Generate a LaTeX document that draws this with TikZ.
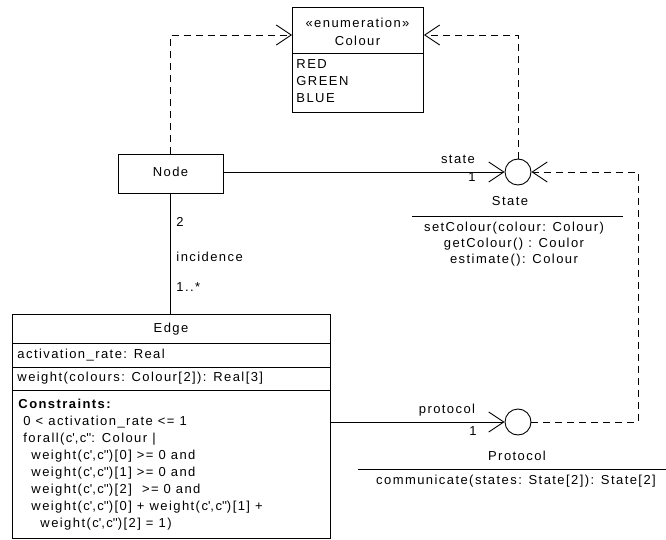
\documentclass[tikz,border=0pt]{standalone}
\usepackage{fontspec}
\setmainfont{Liberation Sans}[LetterSpace=11]
\usetikzlibrary{arrows.meta}
\newcommand{\cq}{c\textquotesingle}
\newcommand{\cqq}{c\textquotesingle\textquotesingle}
\begin{document}
\begin{tikzpicture}[x=1pt,y=-1pt,line width=0.9pt,
  font=\fontsize{13}{17}\selectfont,
  box/.style={draw,line width=0.9pt,inner sep=0pt},
  txt/.style={inner sep=0pt,text height=9.5pt,text depth=2.5pt},
  ltxt/.style={txt,anchor=west},
  iface/.style={circle,draw,line width=0.9pt,minimum size=26pt,inner sep=0pt},
  openhead/.style={-{Straight Barb[length=15pt,width=20pt,line width=0.9pt]}},
  assoc/.style={openhead},
  depend/.style={openhead,dash pattern=on 7pt off 5pt}]
\useasboundingbox (0,0) rectangle (666,540);
% Colour enumeration
\node[box,minimum width=131pt,minimum height=105pt,anchor=north west] (colour) at (292,7) {};
\draw (colour.west |- 0,53) -- (colour.east |- 0,53);
\node[txt] (enum) at (357.5,24) {«enumeration»};
\node[txt] (cname) at (357.5,42) {Colour};
\node[ltxt] (red) at (296,65) {RED};
\node[ltxt] (green) at (296,82) {GREEN};
\node[ltxt] (blue) at (296,99) {BLUE};
% Node class
\node[box,txt,minimum width=105pt,minimum height=39pt] (node) at (170.5,173.5) {};
\node[txt] (nodename) at (node.center) {Node};
% interfaces
\node[iface] (state) at (518,172) {};
\node[iface] (protocol) at (518,422) {};
% State interface text
\node[txt] (statename) at (510,202) {State};
\coordinate (sl1) at (412,216);
\coordinate (sl2) at (623,216);
\draw (sl1) -- (sl2);
\node[txt] (s1) at (514,228) {setColour(colour: Colour)};
\node[txt] (s2) at (514,244) {getColour() : Coulor};
\node[txt] (s3) at (514,260) {estimate(): Colour};
% Protocol interface text
\node[txt] (protname) at (517,457) {Protocol};
\coordinate (pl1) at (358,469);
\coordinate (pl2) at (666,469);
\draw (pl1) -- (pl2);
\node[txt] (p1) at (516,481) {communicate(states: State[2]): State[2]};
% Edge class
\node[box,minimum width=318pt,minimum height=224pt,anchor=north west] (edge) at (12,314) {};
\draw (edge.west |- 0,343) -- (edge.east |- 0,343);
\draw (edge.west |- 0,367) -- (edge.east |- 0,367);
\draw (edge.west |- 0,390) -- (edge.east |- 0,390);
\node[txt] (edgename) at (171,329) {Edge};
\node[ltxt] (attr) at (17,355) {activation\_rate: Real};
\node[ltxt] (op) at (17,378) {weight(colours: Colour[2]): Real[3]};
\node[ltxt] (c1) at (18,405) {\textbf{Constraints:}};
\node[ltxt] (c2) at (23,422) {0 < activation\_rate <= 1};
\node[ltxt] (c3) at (23,439) {forall(\cq,\cqq: Colour |};
\node[ltxt] (c4) at (31,456) {weight(\cq,\cqq)[0] >= 0 and};
\node[ltxt] (c5) at (31,473) {weight(\cq,\cqq)[1] >= 0 and};
\node[ltxt] (c6) at (31,490) {weight(\cq,\cqq)[2] \ >= 0 and};
\node[ltxt] (c7) at (31,507) {weight(\cq,\cqq)[0] + weight(\cq,\cqq)[1] +};
\node[ltxt] (c8) at (40,524) {weight(\cq,\cqq)[2] = 1)};
% connectors
\draw[assoc] (node.east |- state.west) -- (state.west);
\node[txt] (lstate) at (458,160) {state};
\node[txt] (lone1) at (472,178) {1};
\draw[assoc] (edge.east |- protocol.west) -- (protocol.west);
\node[txt] (lprot) at (447,410) {protocol};
\node[txt] (lone2) at (473,432) {1};
\draw (node.south) -- (node.south |- edge.north);
\node[ltxt] (m2) at (176,223) {2};
\node[ltxt] (minc) at (176,258) {incidence};
\node[ltxt] (mmany) at (176,288) {1..*};
\coordinate (nl) at (node.north |- 0,35);
\coordinate (sr) at (state.north |- 0,35);
\draw[depend] (node.north) -- (nl) -- (colour.west |- nl);
\draw[depend] (state.north) -- (sr) -- (colour.east |- sr);
\coordinate (pr) at (638,422);
\coordinate (qr) at (638,172);
\draw[depend] (protocol.east) -- (pr) -- (qr) -- (state.east);
\end{tikzpicture}
\end{document}
